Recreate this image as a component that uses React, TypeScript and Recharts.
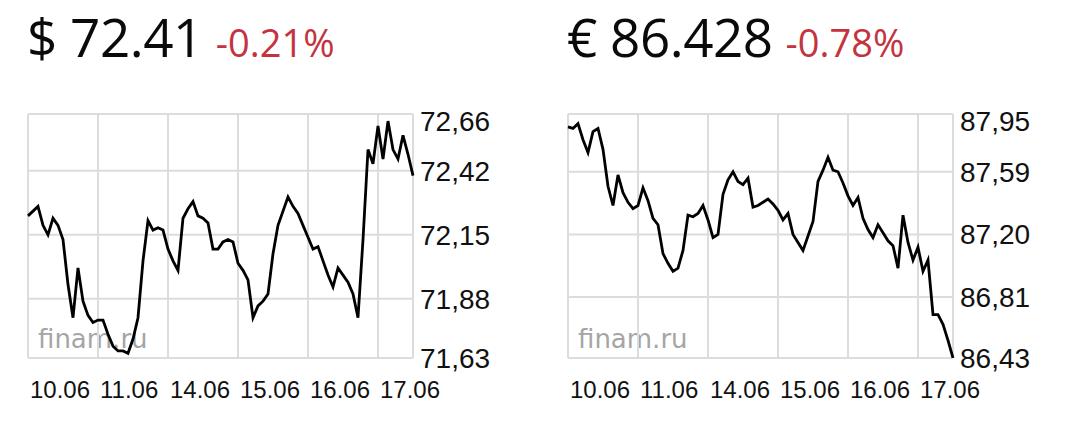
import { CartesianGrid, Line, LineChart, ReferenceLine, XAxis, YAxis } from "recharts";

// intraday quotes, 14 samples per trading day, last day is half a day
const DAY_LABELS = ["10.06", "11.06", "14.06", "15.06", "16.06", "17.06"];
const DAY_STARTS = [0, 14, 28, 42, 56, 70];
const LAST_INDEX = 77;

const USD_VALUES = [
  72.23, 72.25, 72.27, 72.19, 72.15, 72.22, 72.19, 72.13, 71.94, 71.8, 72.01, 71.87, 71.81, 71.78,
  71.79, 71.79, 71.73, 71.68, 71.66, 71.66, 71.65, 71.71, 71.8, 72.04, 72.21, 72.17, 72.18, 72.17,
  72.09, 72.04, 72.0, 72.22, 72.26, 72.29, 72.23, 72.22, 72.2, 72.09, 72.09, 72.12, 72.13, 72.12,
  72.03, 72.0, 71.96, 71.8, 71.85, 71.87, 71.9, 72.07, 72.19, 72.25, 72.31, 72.27, 72.24, 72.19,
  72.14, 72.09, 72.1, 72.04, 71.98, 71.93, 72.01, 71.98, 71.95, 71.9, 71.8, 72.13, 72.51, 72.45,
  72.61, 72.47, 72.63, 72.51, 72.47, 72.57, 72.49, 72.4,
];
const USD_TICKS = [71.63, 71.88, 72.15, 72.42, 72.66];

const EUR_VALUES = [
  87.87, 87.86, 87.89, 87.79, 87.71, 87.84, 87.86, 87.73, 87.5, 87.38, 87.57, 87.46, 87.4, 87.36,
  87.38, 87.49, 87.41, 87.3, 87.26, 87.08, 87.02, 86.97, 86.99, 87.1, 87.32, 87.31, 87.33, 87.38,
  87.29, 87.18, 87.2, 87.45, 87.54, 87.59, 87.53, 87.51, 87.55, 87.37, 87.38, 87.4, 87.42, 87.39,
  87.35, 87.29, 87.33, 87.2, 87.15, 87.1, 87.19, 87.28, 87.53, 87.6, 87.68, 87.6, 87.59, 87.52,
  87.44, 87.38, 87.43, 87.3, 87.23, 87.18, 87.26, 87.21, 87.16, 87.13, 86.99, 87.32, 87.15, 87.04,
  87.12, 86.97, 87.04, 86.7, 86.7, 86.64, 86.54, 86.43,
];
const EUR_TICKS = [86.43, 86.81, 87.2, 87.59, 87.95];

const PLOT_TOP = 114;
const GRID = "#dcdcdc";
const AXIS_FONT = "'Liberation Sans', Arial, sans-serif";

function DayTick({ x, y, payload }: any) {
  const idx = DAY_STARTS.indexOf(payload.value);
  return (
    <text x={x + 2} y={y + 40} fontFamily={AXIS_FONT} fontSize={24} fill="#111" textAnchor="start">
      {DAY_LABELS[idx]}
    </text>
  );
}

function PriceTick({ x, y, payload }: any) {
  const cy = Math.max(y, PLOT_TOP + 7);
  return (
    <text x={x + 7} y={cy + 10} fontFamily={AXIS_FONT} fontSize={28} fill="#111" textAnchor="start">
      {payload.value.toFixed(2).replace(".", ",")}
    </text>
  );
}

function Panel({
  left,
  values,
  ticks,
  symbol,
  price,
  change,
}: {
  left: number;
  values: number[];
  ticks: number[];
  symbol: string;
  price: string;
  change: string;
}) {
  const data = values.map((v, i) => ({ i, v }));
  return (
    <>
      <div
        style={{
          position: "absolute",
          left: left + 27,
          top: 10,
          fontFamily: "'Open Sans', sans-serif",
          fontSize: 53,
          fontWeight: 500,
          lineHeight: "53px",
          color: "#0a0a0a",
          whiteSpace: "nowrap",
          letterSpacing: -0.5,
        }}
      >
        {symbol} {price}
        <span style={{ fontSize: 38, fontWeight: 400, color: "#c4343f", marginLeft: 13, letterSpacing: 0 }}>{change}</span>
      </div>
      <div
        style={{
          position: "absolute",
          left: left + 38,
          top: 326,
          fontFamily: "'DejaVu Sans', sans-serif",
          fontSize: 26,
          lineHeight: "26px",
          color: "#a5a5a5",
        }}
      >
        finam.ru
      </div>
      <div style={{ position: "absolute", left, top: 0 }}>
        <LineChart width={540} height={422} data={data} margin={{ top: PLOT_TOP, right: 27, bottom: 24, left: 28 }}>
          <CartesianGrid stroke={GRID} strokeWidth={2} />
          <XAxis
            dataKey="i"
            type="number"
            domain={[0, LAST_INDEX]}
            ticks={DAY_STARTS}
            interval={0}
            height={40}
            tickLine={false}
            axisLine={false}
            tickSize={0}
            tickMargin={0}
            tick={<DayTick />}
          />
          <YAxis
            orientation="right"
            type="number"
            domain={[ticks[0], ticks[ticks.length - 1]]}
            allowDataOverflow
            ticks={ticks}
            interval={0}
            width={100}
            tickLine={false}
            axisLine={false}
            tickSize={0}
            tickMargin={0}
            tick={<PriceTick />}
          />
          <ReferenceLine x={LAST_INDEX} stroke={GRID} strokeWidth={2} />
          <Line
            dataKey="v"
            type="linear"
            stroke="#000"
            strokeWidth={2.8}
            dot={false}
            activeDot={false}
            isAnimationActive={false}
          />
        </LineChart>
      </div>
    </>
  );
}

export default function App() {
  return (
    <div style={{ position: "absolute", left: 0, top: 0, width: 1080, height: 422, background: "#fff", overflow: "hidden" }}>
      <Panel left={0} values={USD_VALUES} ticks={USD_TICKS} symbol="$" price="72.41" change="-0.21%" />
      <Panel left={540} values={EUR_VALUES} ticks={EUR_TICKS} symbol="€" price="86.428" change="-0.78%" />
    </div>
  );
}
